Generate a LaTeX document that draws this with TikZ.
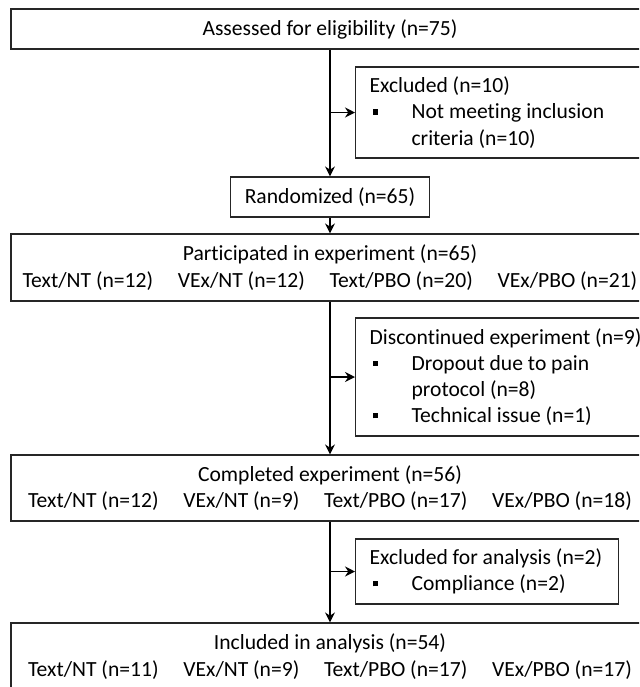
\documentclass[tikz,border=0pt]{standalone}
\usepackage{fontspec}
\setmainfont{Carlito}[Ligatures=CommonOff]
\usetikzlibrary{arrows.meta}

\newcommand{\bul}{\makebox[21pt][l]{\hspace{1.5pt}\rule[0.2em]{2.6pt}{2.6pt}}}
\newcommand{\ind}{\hspace*{21pt}}
\newcommand{\gap}{\hspace{12.4pt}}

\begin{document}
\begin{tikzpicture}[x=0.5pt, y=-0.5pt,
    box/.style={draw=black!85, line width=0.6pt, rectangle, inner sep=0pt, align=center,
      font=\fontsize{10.8}{13.1}\selectfont},
    side/.style={box, anchor=west, align=flush left, inner xsep=7pt},
    arr/.style={-{Stealth[length=5pt, width=5pt]}, line width=0.7pt}]
    \clip (0,0) rectangle (639,687);

    \node[box, minimum width=319pt, minimum height=20pt] (assess) at (330,29) {Assessed for eligibility (n=75)};
    \node[side, text width=166pt, minimum height=45.5pt] (excl) at (355,112.5)
      {Excluded (n=10)\\ \bul Not meeting inclusion\\ \ind criteria (n=10)};
    \node[box, minimum width=99.5pt, minimum height=20pt] (rand) at (330,197) {Randomized (n=65)};

    \node[box, minimum width=319pt, minimum height=33.5pt] (part) at (330,267.5)
      {Participated in experiment (n=65)\\
       Text/NT (n=12)\gap VEx/NT (n=12)\gap Text/PBO (n=20)\gap VEx/PBO (n=21)};
    \node[side, text width=166pt, minimum height=59pt] (disc) at (355,377)
      {Discontinued experiment (n=9)\\ \bul Dropout due to pain\\ \ind protocol (n=8)\\ \bul Technical issue (n=1)};

    \node[box, minimum width=319pt, minimum height=33pt] (comp) at (330,488)
      {Completed experiment (n=56)\\
       Text/NT (n=12)\gap VEx/NT (n=9)\gap Text/PBO (n=17)\gap VEx/PBO (n=18)};
    \node[side, text width=117.5pt, minimum height=32.5pt] (exan) at (355,571.5)
      {Excluded for analysis (n=2)\\ \bul Compliance (n=2)};

    \node[box, minimum width=319pt, minimum height=33.5pt] (incl) at (330,656.5)
      {Included in analysis (n=54)\\
       Text/NT (n=11)\gap VEx/NT (n=9)\gap Text/PBO (n=17)\gap VEx/PBO (n=17)};

    \draw[arr] (assess) -- (rand);
    \draw[arr] (assess.south |- excl.west) -- (excl.west);
    \draw[arr] (rand) -- (part);
    \draw[arr] (part) -- (comp);
    \draw[arr] (part.south |- disc.west) -- (disc.west);
    \draw[arr] (comp) -- (incl);
    \draw[arr] (comp.south |- exan.west) -- (exan.west);
  \end{tikzpicture}
\end{document}
